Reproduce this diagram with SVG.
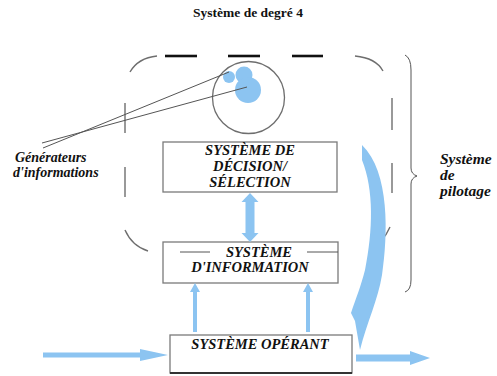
<svg xmlns="http://www.w3.org/2000/svg" width="497" height="376" viewBox="0 0 497 376">
<style>
.t{font-family:"Liberation Serif","Times New Roman",serif;font-weight:bold;fill:#111}
.bi{font-style:italic}
.box{fill:#fff;stroke:#7a7a7a;stroke-width:1.3}
.dg{fill:none;stroke:#6e6e6e;stroke-width:1.4}
.dk{fill:none;stroke:#111;stroke-width:2.6}
.bl{fill:#8cc4f1;stroke:none}
.ln{fill:none;stroke:#555;stroke-width:1}
</style>
<rect width="497" height="376" fill="#fff"/>
<text id="title" class="t" x="248" y="17" font-size="13.5" text-anchor="middle">Système de degré 4</text>

<g id="pilotage-boundary">
<path class="dg" d="M130,72 Q138,58 157,56"/>
<line class="dk" x1="165" y1="56" x2="197" y2="56"/>
<line class="dk" x1="228" y1="56" x2="260" y2="56"/>
<line class="dk" x1="292" y1="56" x2="323" y2="56"/>
<path class="dg" d="M355,56 Q376,58 383,71"/>
<line class="dg" x1="125" y1="103" x2="125" y2="133"/>
<line class="dg" x1="125" y1="167" x2="125" y2="197"/>
<path class="dg" d="M125,230 Q132,246 148,251"/>
<line class="dg" x1="392" y1="98" x2="392" y2="130"/>
<line class="dg" x1="392" y1="163" x2="392" y2="193"/>
<path class="dg" d="M390,227 Q383,243 370,248"/>
</g>

<g id="brace">
<path class="ln" stroke="#777" d="M405,55 Q411,58 411,70 L411,168 Q411,174 417,176 Q411,178 411,184 L411,280 Q411,290 405,292"/>
</g>

<g id="generateurs">
<circle cx="248.5" cy="97.5" r="36" fill="none" stroke="#6e6e6e" stroke-width="1.3"/>
<circle class="bl" cx="229" cy="77" r="6"/>
<circle class="bl" cx="244" cy="75" r="8.5"/>
<circle class="bl" cx="248" cy="90" r="13"/>
</g>

<g id="decision">
<rect class="box" x="163" y="142" width="174" height="50"/>
<text class="t bi" font-size="14.5" text-anchor="middle" x="250" y="155">SYSTÈME DE</text>
<text class="t bi" font-size="14.5" text-anchor="middle" x="250" y="171">DÉCISION/</text>
<text class="t bi" font-size="14.5" text-anchor="middle" x="250" y="187">SÉLECTION</text>
</g>

<g id="information">
<rect class="box" x="163" y="242" width="175" height="41"/>
<line class="ln" x1="180" y1="252" x2="210" y2="252"/>
<line class="ln" x1="307" y1="252" x2="338" y2="252"/>
<text class="t bi" font-size="14.5" text-anchor="middle" x="259" y="257">SYSTÈME</text>
<text class="t bi" font-size="14.5" text-anchor="middle" x="250" y="272">D'INFORMATION</text>
</g>

<g id="operant">
<rect class="box" x="170" y="335" width="182" height="38"/>
<line x1="170" y1="373" x2="352" y2="373" stroke="#333" stroke-width="2"/>
<text class="t bi" font-size="14.5" text-anchor="middle" x="260" y="349">SYSTÈME OPÉRANT</text>
</g>

<g id="label-generateurs">
<text class="t bi" font-size="14" x="15" y="162">Générateurs</text>
<text class="t bi" font-size="14" x="13" y="177">d'informations</text>
</g>

<g id="label-pilotage">
<text class="t bi" font-size="15.5" x="440" y="164">Système</text>
<text class="t bi" font-size="15.5" x="440" y="180">de</text>
<text class="t bi" font-size="15.5" x="440" y="196">pilotage</text>
</g>

<g id="connectors">
<line class="ln" x1="43" y1="148" x2="229" y2="72"/>
<line class="ln" x1="42" y1="143" x2="247" y2="87"/>
<path class="bl" d="M250,193 L258.5,202 L254.5,202 L254.5,233 L258.5,233 L250,242 L241.5,233 L245.5,233 L245.5,202 L241.5,202 Z"/>
<path class="bl" d="M193,332 L193,292 L190,292 L195,283 L200,292 L197,292 L197,332 Z"/>
<path class="bl" d="M306,332 L306,292 L303,292 L308,283 L313,292 L310,292 L310,332 Z"/>
<path class="bl" d="M43,352.5 L140,352.5 L140,349 L168,355 L140,361 L140,357.5 L43,357.5 Z"/>
<path class="bl" d="M356,354.5 L410,354.5 L410,351 L430,358 L410,365 L410,361.5 L356,361.5 Z"/>
<path class="bl" d="M362,145 C390,172 388,235 382,275 C378,300 367,322 360,350 L355,321 L351,313 C356,298 361,286 365,270 C373,230 374,190 362,160 Z"/>
</g>
</svg>
